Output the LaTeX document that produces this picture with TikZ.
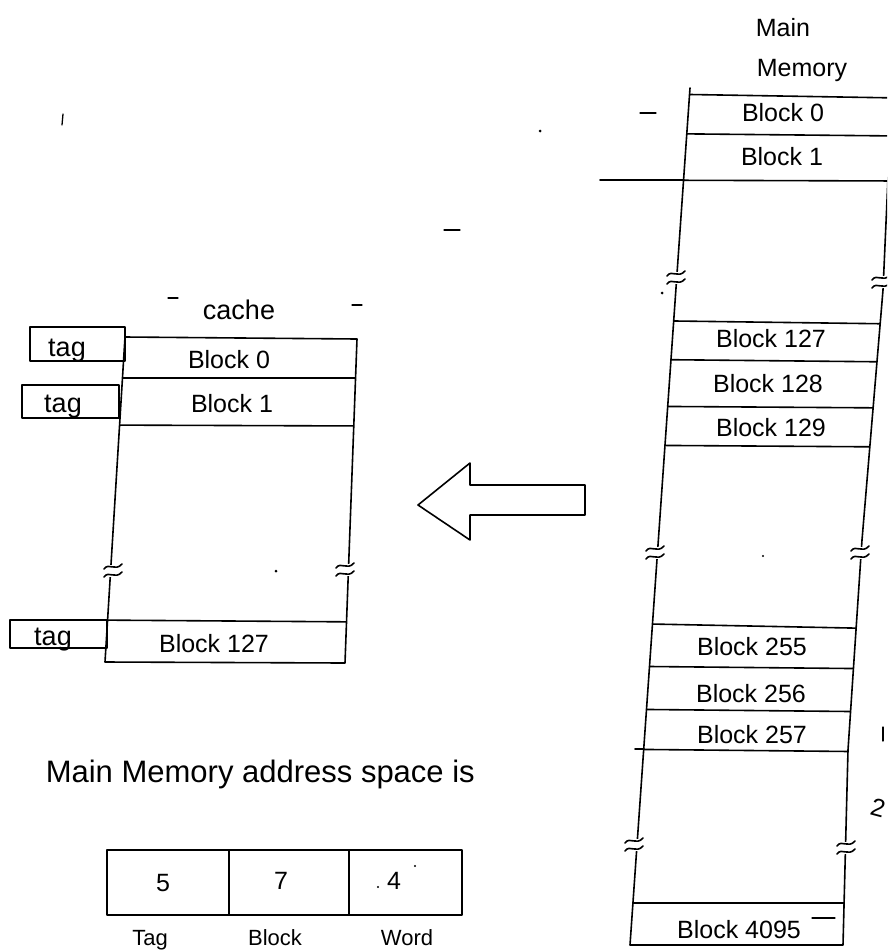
\documentclass[tikz,border=0pt]{standalone}
\usepackage{fontspec}
\setmainfont{Liberation Sans}
\begin{document}
\begin{tikzpicture}[x=1pt,y=-1pt,line width=1.6pt,line join=round,line cap=round,
  lbl/.style={inner sep=0pt,font=\fontsize{25}{29}\selectfont},
  taglbl/.style={inner sep=0pt,font=\fontsize{27}{31}\selectfont,anchor=base},
  botlbl/.style={inner sep=0pt,font=\fontsize{22}{26}\selectfont,anchor=base},
  bigtxt/.style={inner sep=0pt,font=\fontsize{31}{36}\selectfont},
  strokemark/.style={line width=1.3pt},
  brk/.pic={
    \fill[white] (-8,-6) rectangle (8,6);
    \draw (-9,-2) .. controls (-4,-9) and (2,1) .. (9,-7);
    \draw (-9,6) .. controls (-4,-1) and (2,9) .. (9,1);
  }]
\useasboundingbox (0,0) rectangle (887,951);
\clip (0,0) rectangle (887,951);
\fill[white] (0,0) rectangle (887,951);

% ---------------- Main memory ----------------
\draw (690,88) -- (630,945) -- (843,945) -- (848,750) -- (862,540) -- (883,290) -- (892,88);
\begin{scope}
  \clip (690,88) -- (630,945) -- (843,945) -- (848,750) -- (862,540) -- (883,290) -- (892,88) -- cycle;
  \foreach \a/\b in {93/98,133/136,180/181,320/324,359/362,406/408,445/447,623/629,666/669,709/712,749/752,903/903}
    \draw (600,\a) -- (900,\b);
\end{scope}
\draw (600,180) -- (684,180);
\draw (635,749) -- (644,749);

\pic at (676,278) {brk};
\pic at (881,282) {brk};
\pic at (655,553) {brk};
\pic at (860,553) {brk};
\pic at (634,845) {brk};
\pic at (846,848) {brk};

\node[lbl] (mmA) at (783,28) {Main};
\node[lbl] (mmB) at (802,70) {Memory};
\node[lbl] (m0) at (783,113) {Block 0};
\node[lbl] (m1) at (782,157) {Block 1};
\node[lbl] (m127) at (771,339) {Block 127};
\node[lbl] (m128) at (768,384) {Block 128};
\node[lbl] (m129) at (771,428) {Block 129};
\node[lbl] (m255) at (752,647) {Block 255};
\node[lbl] (m256) at (751,694) {Block 256};
\node[lbl] (m257) at (752,735) {Block 257};
\node[lbl] (m4095) at (739,930) {Block 4095};
\draw[strokemark] (812,918) -- (835,918);

% ---------------- Cache ----------------
\draw (125,337) -- (105,662) -- (345,663) -- (357,339) -- cycle;
\begin{scope}
  \clip (125,337) -- (105,662) -- (345,663) -- (357,339) -- cycle;
  \foreach \a/\b in {378/378,425/426,620/622}
    \draw (90,\a) -- (370,\b);
\end{scope}
\pic at (113,571) {brk};
\pic at (345,570) {brk};

\draw (30,327) rectangle (125,361);
\draw (22,385) rectangle (119,418);
\draw (10,620) rectangle (107,648);

\node[taglbl] (ct) at (239,319) {cache};
\node[taglbl] (t1) at (67,356) {tag};
\node[taglbl] (t2) at (63,412) {tag};
\node[taglbl] (t3) at (53,645) {tag};
\node[lbl] (c0) at (229,360) {Block 0};
\node[lbl] (c1) at (232,404) {Block 1};
\node[lbl] (c127) at (214,644) {Block 127};

% ---------------- Arrow ----------------
\draw (418,505) -- (470,463) -- (470,485) -- (585,485) -- (585,515) -- (470,515) -- (470,540) -- cycle;

% ---------------- Address format ----------------
\node[bigtxt,anchor=base west] (addr) at (45,782) {Main Memory address space is};
\draw (107,850) rectangle (462,915);
\draw (229,850) -- (229,915);
\draw (349,850) -- (349,915);
\node[lbl] (f5) at (163,883) {5};
\node[lbl] (f7) at (281,881) {7};
\node[lbl] (f4) at (394,881) {4};
\node[botlbl] (lt) at (150,945) {Tag};
\node[botlbl] (lb) at (275,945) {Block};
\node[botlbl] (lw) at (407,945) {Word};

% ---------------- stray marks ----------------
\draw[strokemark] (640,113) -- (656,113);
\draw[strokemark] (444,230) -- (460,230);
\draw[strokemark] (168,298) -- (178,298);
\draw[strokemark] (352,305) -- (362,305);
\draw[strokemark] (63,114) -- (62,125);
\draw[strokemark] (883,727) -- (883,741);
\node[lbl,rotate=-15] (n2) at (878,808) {2};
\fill (540,131) circle (1.5);
\fill (276,571) circle (1.5);
\fill (662,293) circle (1.5);
\fill (763,556) circle (1.2);
\fill (378,887) circle (1.2);
\fill (415,866) circle (1.2);
\end{tikzpicture}
\end{document}
